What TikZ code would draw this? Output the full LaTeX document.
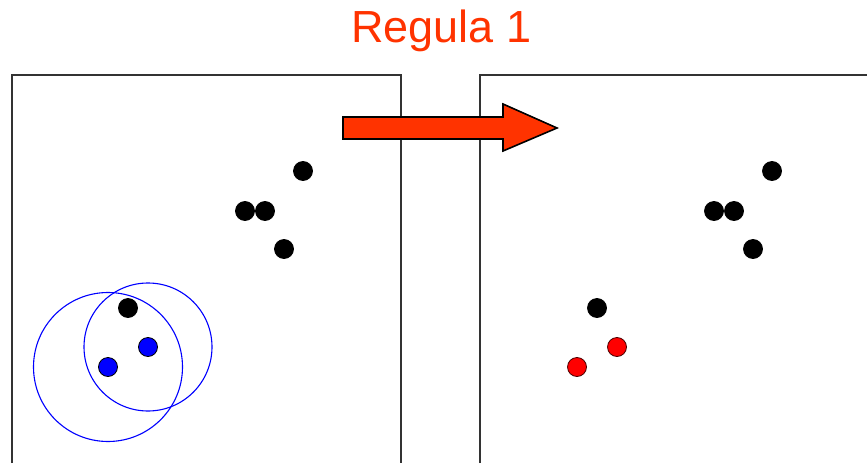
\documentclass[tikz,border=0pt]{standalone}
\usepackage{fontspec}
\setmainfont{Liberation Sans}
\definecolor{titleorange}{HTML}{FF3300}
\definecolor{arroworange}{HTML}{FF3300}
\definecolor{dotblue}{HTML}{0000FF}
\definecolor{dotred}{HTML}{FF0000}
\definecolor{framegray}{HTML}{333333}
\tikzset{
  dot/.style={circle, minimum size=19pt, inner sep=0pt, draw=black, line width=0.8pt, fill=black},
  bluedot/.style={dot, fill=dotblue},
  reddot/.style={dot, fill=dotred, draw=black!70!red},
  frameline/.style={draw=framegray, line width=1.3pt},
  ring/.style={draw=dotblue, line width=1.1pt},
  bigarrow/.style={fill=arroworange, draw=black, line width=1.6pt, line join=miter},
}
\begin{document}
\begin{tikzpicture}[x=1pt,y=-1pt]
\useasboundingbox (0,0) rectangle (867,463);
% title
\node[anchor=base, text=titleorange, font=\fontsize{45}{50}\selectfont, inner sep=0pt] (title) at (441.5,42) {Regula 1};
% frames
\draw[frameline] (12,463) -- (12,75) -- (401,75) -- (401,463);
\draw[frameline] (480,463) -- (480,75) -- (867,75);
% left panel dots
\node[dot] (a1) at (303,171) {};
\node[dot] (a2) at (245,211) {};
\node[dot] (a3) at (265,211) {};
\node[dot] (a4) at (284,249) {};
\node[dot] (a5) at (128,308) {};
\node[bluedot] (b1) at (148,347) {};
\node[bluedot] (b2) at (108,367) {};
% rings around blue dots
\draw[ring] (b2.center) circle (74.5);
\draw[ring] (b1.center) circle (64);
% right panel dots
\node[dot] (c1) at (772,171) {};
\node[dot] (c2) at (714,211) {};
\node[dot] (c3) at (734,211) {};
\node[dot] (c4) at (753,249) {};
\node[dot] (c5) at (597,308) {};
\node[reddot] (r1) at (617,347) {};
\node[reddot] (r2) at (577,367) {};
% big arrow
\draw[bigarrow] (343,117) -- (503,117) -- (503,104) -- (557,128) -- (503,151) -- (503,139) -- (343,139) -- cycle;
\end{tikzpicture}
\end{document}
